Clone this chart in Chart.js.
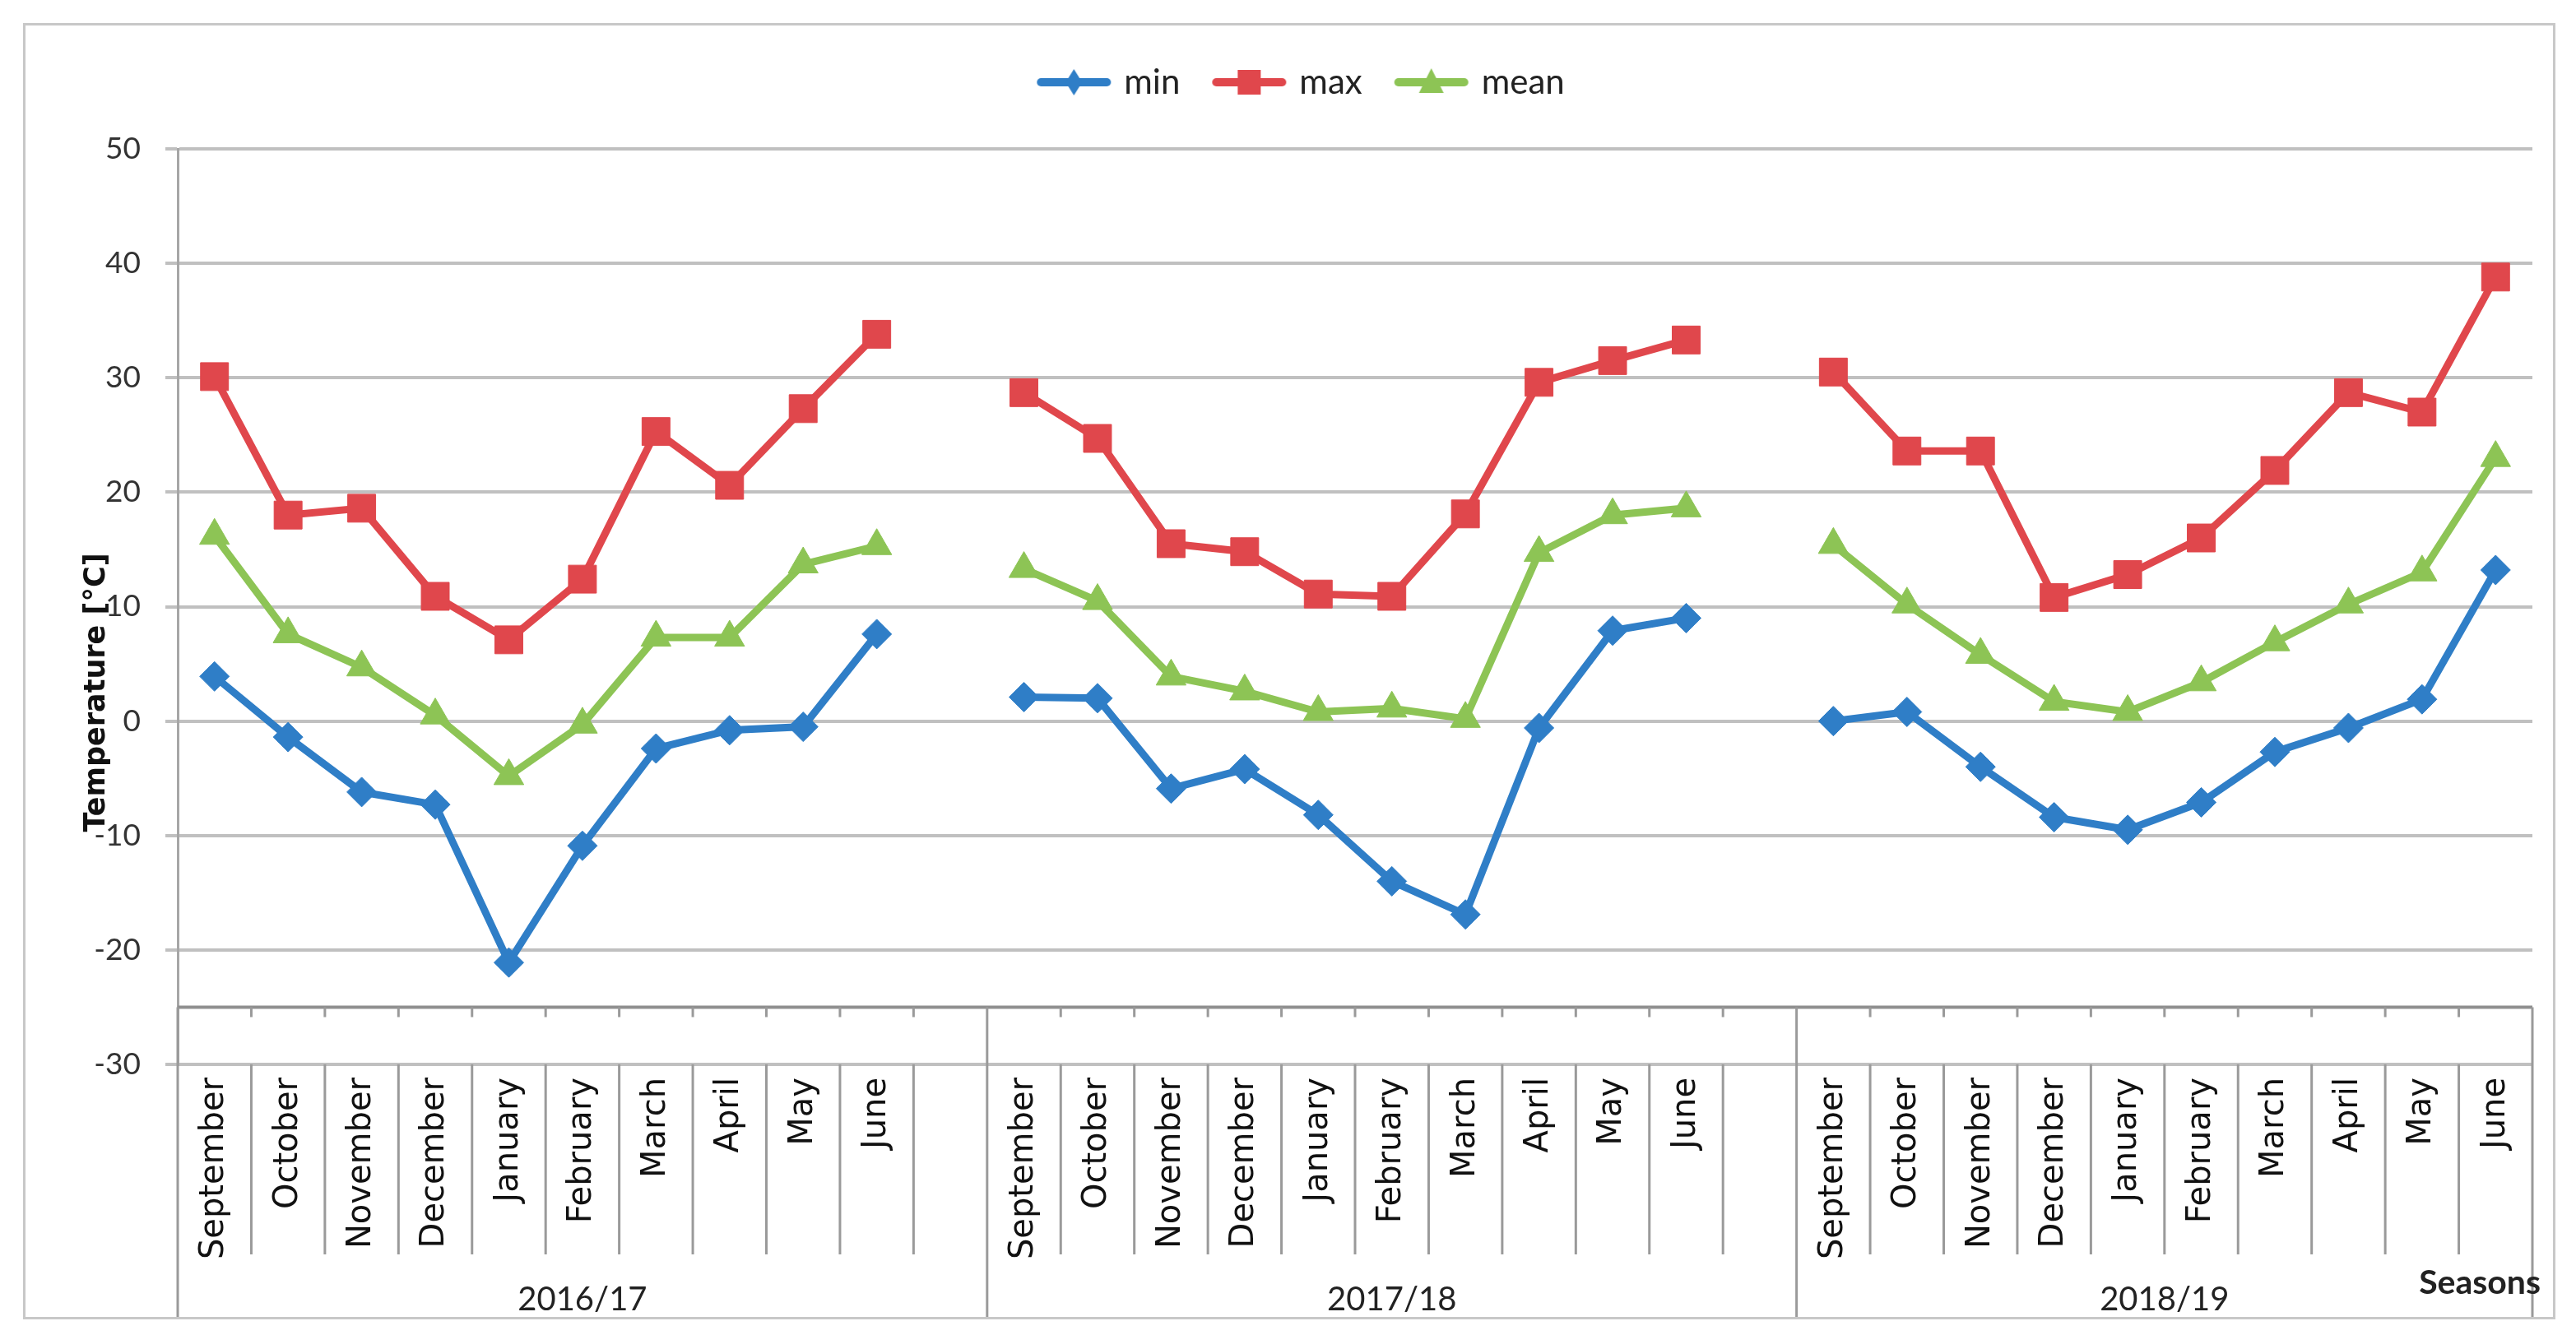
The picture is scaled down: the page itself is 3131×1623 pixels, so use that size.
<!DOCTYPE html>
<html>
<head>
<meta charset="utf-8">
<title>Temperature by season</title>
<script src="https://cdn.jsdelivr.net/npm/chart.js@4.4.1/dist/chart.umd.min.js"></script>
<style>
  html, body { margin: 0; padding: 0; background: #fff; }
  #frame {
    position: absolute; left: 28px; top: 28px;
    width: 3078px; height: 1576px;
    border: 3px solid #c8c8c8; box-sizing: border-box;
  }
</style>
</head>
<body>
<div id="frame"><canvas id="tempChart"></canvas></div>
<script>
// === Data ===
const months = ['September', 'October', 'November', 'December', 'January',
                'February', 'March', 'April', 'May', 'June'];
const seasons = ['2016/17', '2017/18', '2018/19'];

// one row per season, Sep..Jun
const minTemp = [
    [3.9, -1.4, -6.2, -7.3, -21.1, -10.9, -2.4, -0.8, -0.5, 7.6],
    [2.1, 2.0, -5.9, -4.2, -8.2, -14.0, -16.9, -0.6, 7.9, 9.0],
    [0.0, 0.8, -4.0, -8.4, -9.5, -7.1, -2.7, -0.6, 1.9, 13.2]
];
const maxTemp = [
    [30.1, 18.0, 18.6, 10.9, 7.1, 12.4, 25.3, 20.6, 27.3, 33.8],
    [28.7, 24.7, 15.5, 14.8, 11.1, 10.9, 18.1, 29.6, 31.5, 33.3],
    [30.5, 23.6, 23.6, 10.8, 12.8, 16.0, 21.9, 28.7, 27.0, 38.8]
];
const meanTemp = [
    [16.2, 7.6, 4.7, 0.5, -4.8, -0.3, 7.3, 7.3, 13.7, 15.3],
    [13.3, 10.5, 3.9, 2.6, 0.8, 1.1, 0.2, 14.7, 18.0, 18.6],
    [15.4, 10.2, 5.8, 1.7, 0.8, 3.4, 6.9, 10.2, 13.0, 23.0]
];

const yTicks = [-30, -20, -10, 0, 10, 20, 30, 40, 50];
const axisCross = -25;          // value where the category axis crosses
const seriesNames = ['min', 'max', 'mean'];
const seriesColors = ['#2f7ec7', '#e0474c', '#8dc455'];

// === Build the category list: 10 months per season, empty slot between seasons ===
const labels = [];
const groupEdges = [];          // category index where each season starts (+ end)
seasons.forEach((s, i) => {
    groupEdges.push(labels.length);
    months.forEach(m => labels.push(m));
    if (i < seasons.length - 1) labels.push('');
});
groupEdges.push(labels.length);

// flatten season rows, null in the gap slots so the line breaks
function withGaps(rows) {
    const out = [];
    rows.forEach((row, i) => {
        row.forEach(v => out.push(v));
        if (i < rows.length - 1) out.push(null);
    });
    return out;
}

// === Legend icons: line with the marker in the middle ===
function legendIcon(color, shape) {
    const c = document.createElement('canvas');
    c.width = 96; c.height = 40;
    const g = c.getContext('2d');
    g.strokeStyle = color; g.fillStyle = color;
    g.lineWidth = 10; g.lineCap = 'round';
    g.beginPath(); g.moveTo(8, 20); g.lineTo(88, 20); g.stroke();
    g.beginPath();
    if (shape === 'rectRot') {
        g.moveTo(48, 4); g.lineTo(58, 20); g.lineTo(48, 36); g.lineTo(38, 20);
    } else if (shape === 'rect') {
        g.rect(34, 5, 28, 30);
    } else {
        g.moveTo(48, 3); g.lineTo(63, 33); g.lineTo(33, 33);
    }
    g.closePath(); g.fill();
    return c;
}
const shapes = ['rectRot', 'rect', 'triangle'];
const shapeRadius = [18, 24, 21];
const icons = shapes.map((s, i) => legendIcon(seriesColors[i], s));

function makeDataset(i, rows) {
    return {
        label: seriesNames[i],
        data: withGaps(rows),
        xAxisID: 'x',
        yAxisID: 'y',
        borderColor: seriesColors[i],
        backgroundColor: seriesColors[i],
        borderWidth: 9,
        pointStyle: shapes[i],
        pointRadius: shapeRadius[i],
        pointBorderWidth: 1,
        pointBorderColor: seriesColors[i],
        pointBackgroundColor: seriesColors[i],
        spanGaps: false,
        tension: 0
    };
}

// === Season level of the axis, axis line at -25 and the y title ===
const seasonAxis = {
    id: 'seasonAxis',
    beforeDatasetsDraw(chart) {
        const { ctx, chartArea, scales: { x, y } } = chart;
        const half = (x.getPixelForValue(1) - x.getPixelForValue(0)) / 2;
        const edge = i => x.getPixelForValue(i) - half;
        const axisY = y.getPixelForValue(axisCross);
        ctx.save();
        // horizontal axis line
        ctx.strokeStyle = '#8f8f8f';
        ctx.lineWidth = 4;
        ctx.beginPath();
        ctx.moveTo(chartArea.left, axisY);
        ctx.lineTo(chartArea.right, axisY);
        ctx.stroke();
        // tick marks and month separators
        ctx.strokeStyle = '#9a9a9a';
        ctx.lineWidth = 3;
        ctx.beginPath();
        for (let i = 0; i <= labels.length; i++) {
            ctx.moveTo(edge(i), axisY);
            ctx.lineTo(edge(i), axisY + 12);
            ctx.moveTo(edge(i), chartArea.bottom);
            ctx.lineTo(edge(i), chartArea.bottom + 231);
        }
        // season boundaries run down to the frame
        groupEdges.forEach(i => {
            ctx.moveTo(edge(i), axisY);
            ctx.lineTo(edge(i), x.bottom);
        });
        ctx.stroke();
        // season names
        ctx.fillStyle = '#222';
        ctx.font = '40px Lato';
        ctx.textAlign = 'center';
        ctx.textBaseline = 'alphabetic';
        seasons.forEach((s, i) => {
            const mid = (edge(groupEdges[i]) + edge(groupEdges[i + 1])) / 2;
            ctx.fillText(s, mid, x.bottom - 8);
        });
        // axis title
        ctx.font = 'bold 41px Lato';
        ctx.textAlign = 'right';
        ctx.fillText('Seasons', chartArea.right + 10, x.bottom - 28);
        ctx.restore();
    },
    afterDraw(chart) {
        const { ctx, scales: { y } } = chart;
        ctx.save();
        ctx.translate(87, y.getPixelForValue(2.5));
        ctx.rotate(-Math.PI / 2);
        ctx.fillStyle = '#111';
        ctx.font = 'bold 35px "DejaVu Sans"';
        ctx.textAlign = 'center';
        ctx.textBaseline = 'middle';
        ctx.fillText('Temperature [°C]', 0, 0);
        ctx.restore();
    }
};

const ctx = document.getElementById('tempChart').getContext('2d');
new Chart(ctx, {
    type: 'line',
    data: {
        labels: labels,
        datasets: [makeDataset(0, minTemp), makeDataset(1, maxTemp), makeDataset(2, meanTemp)]
    },
    options: {
        responsive: true,
        maintainAspectRatio: false,
        animation: false,
        devicePixelRatio: 1,
        layout: { padding: { top: 4, right: 25, bottom: 0, left: 58 } },
        plugins: {
            tooltip: { enabled: false },
            legend: {
                position: 'top',
                labels: {
                    usePointStyle: true,
                    pointStyleWidth: 80,
                    padding: 44,
                    color: '#222',
                    font: { family: 'Lato', size: 42 },
                    generateLabels: chart =>
                        Chart.defaults.plugins.legend.labels.generateLabels(chart)
                            .map((item, i) => ({ ...item, pointStyle: icons[i] }))
                }
            }
        },
        scales: {
            x: {
                type: 'category',
                offset: true,
                grid: { display: false, drawTicks: false },
                border: { display: false },
                ticks: {
                    autoSkip: false,
                    minRotation: 90,
                    maxRotation: 90,
                    padding: 16,
                    color: '#111',
                    font: { family: 'DejaVu Sans', size: 40 }
                },
                afterFit: scale => { scale.height = 307; }
            },
            // empty band between the legend and the plot
            spacer: {
                type: 'category',
                position: 'top',
                grid: { display: false },
                border: { display: false },
                ticks: { display: false },
                afterFit: scale => { scale.height = 50; }
            },
            y: {
                min: -30,
                max: 50,
                afterBuildTicks: scale => { scale.ticks = yTicks.map(v => ({ value: v })); },
                grid: { color: '#c0c0c0', lineWidth: 4, tickLength: 15 },
                border: { display: true, color: '#a6a6a6', width: 3 },
                ticks: {
                    padding: 30,
                    color: '#333',
                    font: { family: 'Lato', size: 37 }
                },
                afterFit: scale => { scale.width = 127; }
            }
        }
    },
    plugins: [seasonAxis]
});
</script>
</body>
</html>
